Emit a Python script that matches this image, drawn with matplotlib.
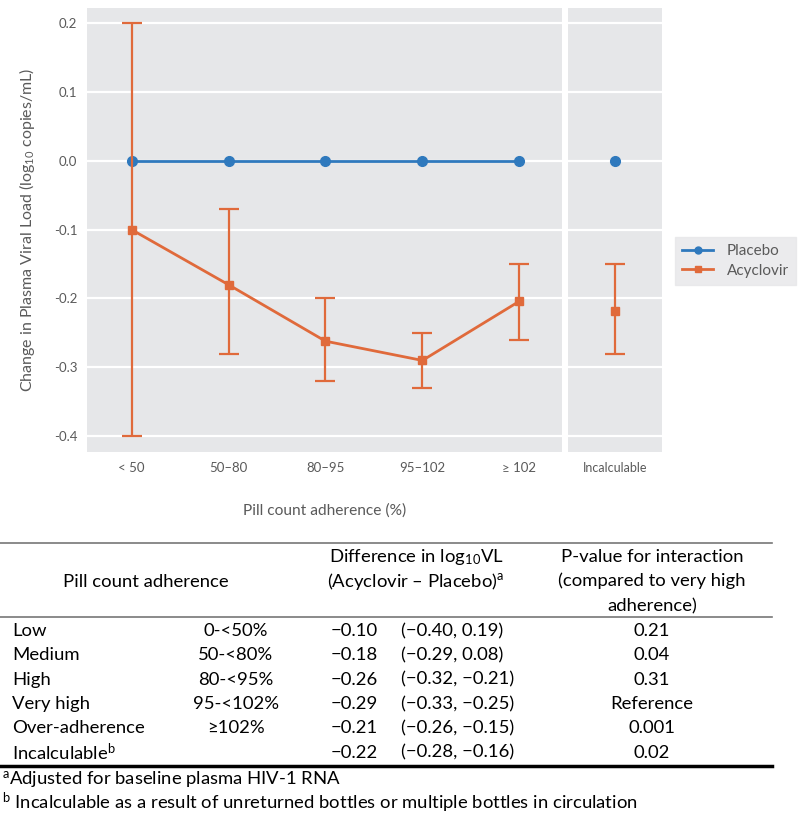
import matplotlib
matplotlib.use("Agg")
import matplotlib.pyplot as plt
from matplotlib.ticker import FuncFormatter
from matplotlib.lines import Line2D

# chart data
categories = ["< 50", "50\u201380", "80\u201395", "95\u2013102", "\u2265 102"]
placebo = [0.0, 0.0, 0.0, 0.0, 0.0]
acyclovir = [-0.10, -0.18, -0.262, -0.29, -0.204]
acy_low = [-0.40, -0.28, -0.32, -0.33, -0.26]
acy_high = [0.20, -0.07, -0.20, -0.25, -0.15]
inc_label = "Incalculable"
inc_placebo = 0.0
inc_acy = -0.218
inc_low = -0.28
inc_high = -0.15
yticks = [0.2, 0.1, 0.0, -0.1, -0.2, -0.3, -0.4]

# table data
row_names = ["Low", "Medium", "High", "Very high", "Over-adherence", "Incalculable$^{\\mathregular{b}}$"]
row_ranges = ["0-<50%", "50-<80%", "80-<95%", "95-<102%", "\u2265102%", ""]
row_diff = ["\u22120.10", "\u22120.18", "\u22120.26", "\u22120.29", "\u22120.21", "\u22120.22"]
row_ci = ["(\u22120.40, 0.19)", "(\u22120.29, 0.08)", "(\u22120.32, \u22120.21)",
          "(\u22120.33, \u22120.25)", "(\u22120.26, \u22120.15)", "(\u22120.28, \u22120.16)"]
row_p = ["0.21", "0.04", "0.31", "Reference", "0.001", "0.02"]

BLUE = "#2f79bd"
ORANGE = "#e06a3b"
BG = "#e6e7e9"
TXT = "#5a5a5a"
W, H = 800, 814

plt.rcParams['font.family'] = ['Lato', 'DejaVu Sans']
plt.rcParams['mathtext.fontset'] = 'custom'
plt.rcParams['mathtext.rm'] = 'Lato'
plt.rcParams['mathtext.it'] = 'Lato:italic'

fig = plt.figure(figsize=(W / 100, H / 100), dpi=100)

def box(x0, y0, x1, y1):
    return [x0 / W, 1 - y1 / H, (x1 - x0) / W, (y1 - y0) / H]

ylim = (-0.423, 0.222)
ax = fig.add_axes(box(87, 8, 562, 452))
ax2 = fig.add_axes(box(568, 8, 662, 452))

fmt = FuncFormatter(lambda v, p: f"{v:.1f}".replace("\u2212", "-"))
for a in (ax, ax2):
    a.set_facecolor(BG)
    a.set_ylim(*ylim)
    a.set_yticks(yticks)
    a.grid(axis="y", color="white", lw=1.6)
    a.set_axisbelow(True)
    for s in a.spines.values():
        s.set_visible(False)
    a.tick_params(length=0, colors=TXT, labelsize=9.5, pad=7)
    a.yaxis.set_major_formatter(fmt)
ax2.tick_params(labelleft=False)

xs = list(range(len(categories)))
ax.plot(xs, placebo, color=BLUE, lw=2, marker="o", ms=7, zorder=3)
yerr = [[v - lo for v, lo in zip(acyclovir, acy_low)], [hi - v for v, hi in zip(acyclovir, acy_high)]]
ax.errorbar(xs, acyclovir, yerr=yerr, color=ORANGE, lw=2, marker="s", ms=6,
            capsize=7.5, capthick=1.6, elinewidth=1.6, zorder=4)
ax.set_xticks(xs)
ax.set_xticklabels(categories)
ax.set_xlim(-0.46, 4.44)
ax.set_ylabel("Change in Plasma Viral Load (log$_{10}$ copies/mL)", color=TXT, fontsize=11.5, labelpad=12)
ax.set_xlabel("Pill count adherence (%)", color=TXT, fontsize=11.2)
ax.xaxis.set_label_coords((325 - 87) / (562 - 87), -0.115)

ax2.plot([0], [inc_placebo], color=BLUE, marker="o", ms=7, lw=0, zorder=3)
ax2.errorbar([0], [inc_acy], yerr=[[inc_acy - inc_low], [inc_high - inc_acy]], color=ORANGE,
             marker="s", ms=6, capsize=7.5, capthick=1.6, elinewidth=1.6, zorder=4)
ax2.set_xlim(-0.485, 0.485)
ax2.set_xticks([0])
ax2.set_xticklabels([inc_label], fontsize=9)

handles = [Line2D([], [], color=BLUE, lw=2, marker="o", ms=5),
           Line2D([], [], color=ORANGE, lw=2, marker="s", ms=4.5)]
leg = fig.legend(handles, ["Placebo", "Acyclovir"], loc="upper left", bbox_to_anchor=(667 / W, 1 - 229 / H),
                 frameon=True, facecolor=BG, edgecolor=BG, fancybox=False, fontsize=11, labelcolor=TXT,
                 handlelength=2.0, handletextpad=0.9, borderpad=0.5, labelspacing=0.35)

# table below the chart
tb = fig.add_axes([0, 0, 1, 1])
tb.set_xlim(0, W)
tb.set_ylim(H, 0)
tb.axis("off")
TF = 13.3
tb.plot([0, 772], [543, 543], color="#777777", lw=1.2)
tb.plot([0, 772], [617, 617], color="#777777", lw=1.2)
tb.plot([0, 772], [766, 766], color="black", lw=2.5)
tb.text(146, 582, "Pill count adherence", ha="center", va="center", fontsize=TF)
tb.text(416, 557, "Difference in log$_{10}$VL", ha="center", va="center", fontsize=TF)
tb.text(416, 582, "(Acyclovir \u2013 Placebo)$^{\\mathregular{a}}$", ha="center", va="center", fontsize=TF)
tb.text(652, 557, "P-value for interaction", ha="center", va="center", fontsize=TF)
tb.text(652, 581, "(compared to very high", ha="center", va="center", fontsize=TF)
tb.text(652, 606, "adherence)", ha="center", va="center", fontsize=TF)
for i in range(len(row_names)):
    y = 631 + i * 24.3
    tb.text(12, y, row_names[i], ha="left", va="center", fontsize=TF)
    tb.text(236, y, row_ranges[i], ha="center", va="center", fontsize=TF)
    tb.text(378, y, row_diff[i], ha="right", va="center", fontsize=TF)
    tb.text(401, y, row_ci[i], ha="left", va="center", fontsize=TF)
    tb.text(652, y, row_p[i], ha="center", va="center", fontsize=TF)
tb.text(2, 780, "$^{\\mathregular{a}}$Adjusted for baseline plasma HIV-1 RNA", ha="left", va="center", fontsize=TF)
tb.text(2, 803, "$^{\\mathregular{b}}$ Incalculable as a result of unreturned bottles or multiple bottles in circulation",
        ha="left", va="center", fontsize=TF)

fig.savefig("out.png", dpi=100)
